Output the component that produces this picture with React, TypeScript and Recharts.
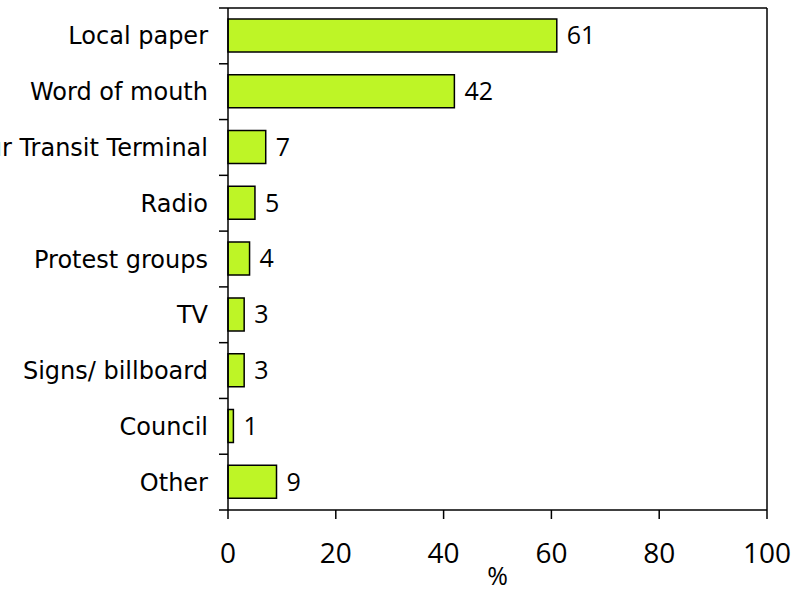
import { BarChart, Bar, XAxis, YAxis, LabelList, ReferenceLine } from "recharts";

const categories = [
  "Local paper",
  "Word of mouth",
  "Tour Transit Terminal",
  "Radio",
  "Protest groups",
  "TV",
  "Signs/ billboard",
  "Council",
  "Other",
];
const percentages = [61, 42, 7, 5, 4, 3, 3, 1, 9];
const xTicks = [0, 20, 40, 60, 80, 100];

const data = categories.map((name, i) => ({ name, value: percentages[i] }));

const labelFont = "'DejaVu Sans', sans-serif";
const numFont = "'Open Sans', sans-serif";

const TICK_SIZE = 6;
const TICK_MARGIN = 14;
const BOUNDARY_TICK = 9;

// category label + tick marks on the band boundaries (not band centres)
function CategoryTick(props: any) {
  const { x, y, payload, index, visibleTicksCount } = props;
  const axisX = x + TICK_SIZE + TICK_MARGIN;
  const half = payload.offset ?? 0;
  const isLast = index === visibleTicksCount - 1;
  return (
    <g>
      <line x1={axisX - BOUNDARY_TICK} x2={axisX} y1={y - half} y2={y - half} stroke="#000" strokeWidth={1.5} />
      {isLast && (
        <line x1={axisX - BOUNDARY_TICK} x2={axisX} y1={y + half} y2={y + half} stroke="#000" strokeWidth={1.5} />
      )}
      <text
        x={x}
        y={y}
        dy="0.355em"
        textAnchor="end"
        fill="#000"
        fontSize={24}
        fontFamily={labelFont}
      >
        {payload.value}
      </text>
    </g>
  );
}

export default function App() {
  return (
    <div style={{ position: "absolute", left: 0, top: 0, width: 811, height: 591, background: "#fff" }}>
      <BarChart
        width={811}
        height={591}
        data={data}
        layout="vertical"
        barSize={33}
        margin={{ top: 7, right: 44, bottom: 21, left: 0 }}
      >
        <XAxis
          type="number"
          domain={[0, 100]}
          ticks={xTicks}
          interval={0}
          height={60}
          stroke="#000"
          strokeWidth={1.5}
          tickSize={9}
          tickMargin={24}
          tick={{ fill: "#000", fontSize: 28, fontFamily: numFont }}
          label={{
            value: "%",
            position: "insideBottom",
            offset: -15,
            fill: "#000",
            fontSize: 25,
            fontFamily: numFont,
          }}
        />
        {/* top frame line */}
        <XAxis
          xAxisId="top"
          orientation="top"
          type="number"
          domain={[0, 100]}
          height={1}
          tick={false}
          tickLine={false}
          stroke="#000"
          strokeWidth={1.5}
        />
        <YAxis
          type="category"
          dataKey="name"
          width={228}
          stroke="#000"
          strokeWidth={1.5}
          tickLine={false}
          tickSize={TICK_SIZE}
          tickMargin={TICK_MARGIN}
          interval={0}
          tick={<CategoryTick />}
        />
        <ReferenceLine x={100} stroke="#000" strokeWidth={1.5} />
        <Bar
          dataKey="value"
          fill="#bef526"
          stroke="#000"
          strokeWidth={1.5}
          isAnimationActive={false}
        >
          <LabelList
            dataKey="value"
            position="right"
            offset={10}
            fill="#000"
            fontSize={25}
            fontFamily={numFont}
          />
        </Bar>
      </BarChart>
    </div>
  );
}
